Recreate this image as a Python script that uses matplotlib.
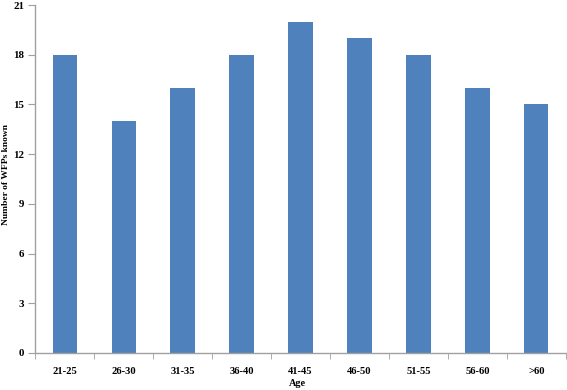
import matplotlib
matplotlib.use("Agg")
import matplotlib.pyplot as plt
import numpy as np

# data
age_groups = ["21-25", "26-30", "31-35", "36-40", "41-45", "46-50", "51-55", "56-60", ">60"]
wfp_known = [18, 14, 16, 18, 20, 19, 18, 16, 15]
y_ticks = [0, 3, 6, 9, 12, 15, 18, 21]

plt.rcParams['font.family'] = ['Liberation Serif', 'DejaVu Serif']

fig = plt.figure(figsize=(5.67, 3.9), dpi=100)
ax = fig.add_axes([0.062, 0.095, 0.936, 0.892])

x = np.arange(len(age_groups))
ax.bar(x, wfp_known, width=0.41, color='#4F81BD')

ax.set_xlim(-0.5, len(age_groups) - 0.5)
ax.set_ylim(0, 21)
ax.set_yticks(y_ticks)
ax.set_yticklabels([str(v) for v in y_ticks], fontsize=7.8, fontweight='bold')

# category labels centred, tick marks between categories
ax.set_xticks(x)
ax.set_xticklabels(age_groups, fontsize=7.6, fontweight='bold')
ax.tick_params(axis='x', length=0, pad=10)
ax.set_xticks(np.arange(-0.5, len(age_groups)), minor=True)
ax.tick_params(axis='x', which='minor', length=4, color='#A0A0A0', direction='out')
ax.tick_params(axis='y', length=5, color='#A0A0A0', direction='out', pad=3)

for s in ['top', 'right']:
    ax.spines[s].set_visible(False)
for s in ['left', 'bottom']:
    ax.spines[s].set_color('#A0A0A0')
    ax.spines[s].set_linewidth(1.0)

# axis titles placed by hand so they stay inside the small canvas
fig.text(6 / 567, 1 - 175 / 390, "Number of WFPs known", fontsize=6.8, fontweight='bold',
         rotation=90, ha='center', va='center')
fig.text(297 / 567, 1 - 383 / 390, "Age", fontsize=7.4, fontweight='bold',
         ha='center', va='center')

fig.savefig("out.png", dpi=100)
